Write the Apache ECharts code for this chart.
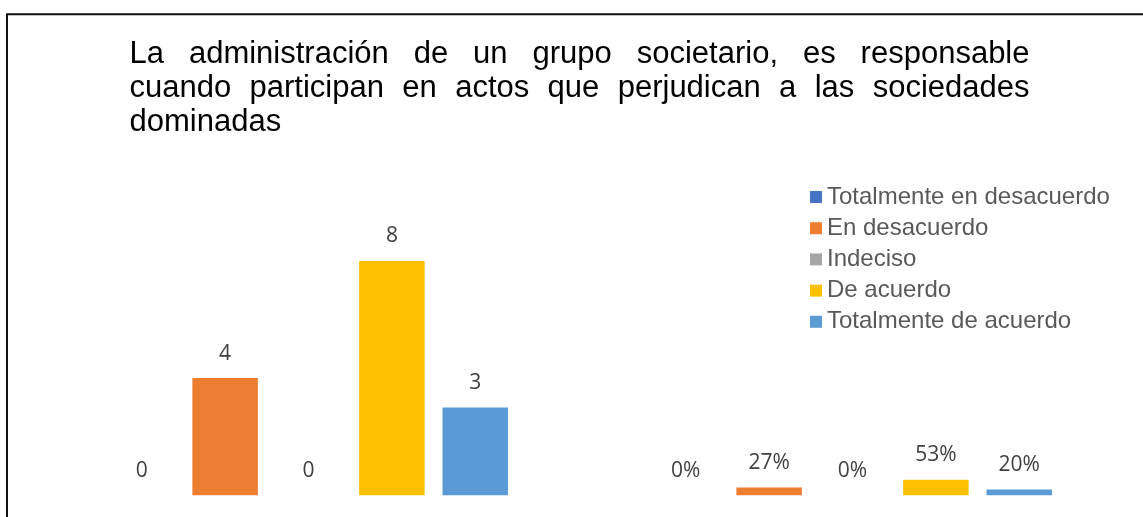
<!DOCTYPE html>
<html><head><meta charset="utf-8">
<script src="https://cdn.jsdelivr.net/npm/echarts@6/dist/echarts.min.js"></script>
<style>html,body{margin:0;padding:0;background:#fff}#c{width:1143px;height:517px}</style>
</head><body><div id="c"></div>
<script>
const titleLines = [
  'La administración de un grupo societario, es responsable',
  'cuando participan en actos que perjudican a las sociedades',
  'dominadas'
];
const categories = ['Frecuencia', 'Porcentaje'];
const seriesNames = ['Totalmente en desacuerdo', 'En desacuerdo', 'Indeciso', 'De acuerdo', 'Totalmente de acuerdo'];
const counts = [0, 4, 0, 8, 3];
const shares = [0, 0.27, 0, 0.53, 0.20];
const colors = ['#4472C4', '#ED7D31', '#A5A5A5', '#FFC000', '#5B9BD5'];

const TITLE_FONT = '31px "Liberation Sans", Arial, sans-serif';
const ctx = document.createElement('canvas').getContext('2d');
ctx.font = TITLE_FONT;
const titleLeft = 129.5, titleWidth = 900, firstCenter = 54, lineStep = 34;
const graphicEls = [{
  type: 'rect', silent: true, z: -10,
  shape: { x: 7, y: 14.3, width: 1400, height: 900 },
  style: { fill: 'none', stroke: '#111', lineWidth: 2 }
}];
titleLines.forEach((line, li) => {
  const words = line.split(' ');
  const widths = words.map(w => ctx.measureText(w).width);
  const total = widths.reduce((a, b) => a + b, 0);
  const justify = li < titleLines.length - 1 && words.length > 1;
  const gap = justify ? (titleWidth - total) / (words.length - 1) : ctx.measureText(' ').width;
  let x = titleLeft;
  words.forEach((w, i) => {
    graphicEls.push({
      type: 'text', silent: true, x: x, y: firstCenter + li * lineStep,
      style: { text: w, font: TITLE_FONT, fill: '#000', align: 'left', textAlign: 'left', verticalAlign: 'middle', textVerticalAlign: 'middle' }
    });
    x += widths[i] + gap;
  });
});

const chart = echarts.init(document.getElementById('c'), null, { renderer: 'canvas' });
chart.setOption({
  animation: false,
  backgroundColor: '#fff',
  graphic: graphicEls,
  legend: {
    orient: 'vertical', left: 810, top: 185, padding: 0,
    itemWidth: 12, itemHeight: 12, itemGap: 7.2, icon: 'rect',
    textStyle: { fontSize: 24, color: '#595959', fontFamily: '"Liberation Sans", Arial, sans-serif' },
    data: seriesNames
  },
  grid: { left: 36.5, right: 18.5, top: 231.6, bottom: 21.7 },
  xAxis: { type: 'category', data: categories, show: false },
  yAxis: { type: 'value', min: 0, max: 9, show: false },
  series: seriesNames.map((name, i) => ({
    type: 'bar', name: name,
    data: [counts[i], shares[i]],
    itemStyle: { color: colors[i] },
    barWidth: 65.5, barGap: '27.3%',
    label: {
      show: true, position: 'top', distance: 14,
      color: '#404040', fontSize: 21, fontFamily: '"Open Sans", sans-serif',
      formatter: p => p.dataIndex === 0 ? String(p.value) : Math.round(p.value * 100) + '%'
    }
  }))
});
</script>
</body></html>
